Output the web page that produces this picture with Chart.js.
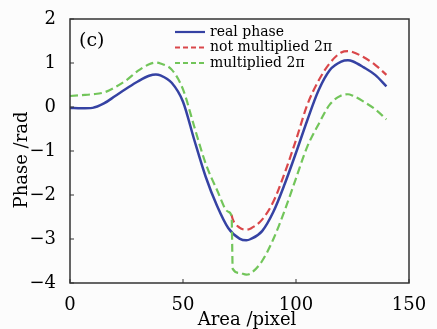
<!DOCTYPE html>
<html>
<head>
<meta charset="utf-8">
<script src="https://cdn.jsdelivr.net/npm/chart.js@4.4.0/dist/chart.umd.min.js"></script>
<style>
  html, body { margin: 0; padding: 0; background: #fcfcfc; }
  #wrap { width: 437px; height: 329px; }
</style>
</head>
<body>
<div id="wrap"><canvas id="phaseChart" width="437" height="329"></canvas></div>
<script>
// real phase (blue)
var realX = [0, 5, 10, 15, 20, 25, 30, 35, 38, 40, 45, 50, 55, 60, 65, 70, 75, 78, 80, 85, 90, 95, 100, 105, 110, 115, 120, 123, 125, 130, 135, 140];
var realY = [-0.02, -0.03, -0.02, 0.08, 0.25, 0.42, 0.58, 0.71, 0.74, 0.72, 0.55, 0.12, -0.75, -1.58, -2.24, -2.75, -2.99, -3.03, -3.0, -2.82, -2.38, -1.75, -1.04, -0.3, 0.38, 0.84, 1.03, 1.06, 1.04, 0.9, 0.73, 0.47];
// not multiplied 2pi (red), only visible after the jump
var notMultX = [71.5, 72, 75, 78, 80, 85, 90, 95, 100, 105, 110, 115, 120, 123, 125, 130, 135, 140];
var notMultY = [-2.45, -2.55, -2.74, -2.79, -2.76, -2.56, -2.15, -1.5, -0.75, 0.05, 0.6, 1.0, 1.24, 1.27, 1.25, 1.13, 0.96, 0.73];
// multiplied 2pi (green)
var multX = [0, 5, 10, 15, 20, 25, 30, 35, 38, 40, 45, 50, 55, 60, 65, 70, 71.5, 72, 75, 78, 80, 85, 90, 95, 100, 105, 110, 115, 120, 123, 125, 130, 135, 140];
var multY = [0.25, 0.27, 0.29, 0.33, 0.45, 0.61, 0.82, 0.97, 1.01, 0.99, 0.85, 0.4, -0.45, -1.28, -1.88, -2.38, -2.48, -3.68, -3.77, -3.81, -3.78, -3.5, -3.0, -2.35, -1.62, -0.9, -0.39, 0.06, 0.26, 0.29, 0.26, 0.12, -0.05, -0.28];

var xTicks = [0, 50, 100, 150];
var yTicks = [-4, -3, -2, -1, 0, 1, 2];
var seriesNames = ["real phase", "not multiplied 2\u03c0", "multiplied 2\u03c0"];

var BLUE = "#3542a3", RED = "#d9474a", GREEN = "#72c55a";
var FONT = "'DejaVu Serif', 'Liberation Serif', serif";

function pts(xs, ys) {
    return xs.map(function (x, i) { return { x: x, y: ys[i] }; });
}

// frame, inner ticks, legend, panel label and axis titles
var decor = {
    id: "decor",
    beforeDraw: function (chart) {
        var ctx = chart.ctx;
        ctx.save();
        ctx.fillStyle = "#fcfcfc";
        ctx.fillRect(0, 0, chart.width, chart.height);
        ctx.restore();
    },
    afterDatasetsDraw: function (chart) {
        var ctx = chart.ctx, a = chart.chartArea;
        var xs = chart.scales.x, ys = chart.scales.y;
        ctx.save();
        ctx.strokeStyle = "#333";
        ctx.lineWidth = 1.5;
        ctx.strokeRect(a.left, a.top, a.right - a.left, a.bottom - a.top);
        ctx.lineWidth = 1;
        xTicks.forEach(function (t) {
            var px = xs.getPixelForValue(t);
            ctx.beginPath(); ctx.moveTo(px, a.bottom); ctx.lineTo(px, a.bottom - 4); ctx.stroke();
        });
        yTicks.forEach(function (t) {
            var py = ys.getPixelForValue(t);
            ctx.beginPath(); ctx.moveTo(a.left, py); ctx.lineTo(a.left + 4, py); ctx.stroke();
        });

        // legend
        var colors = [BLUE, RED, GREEN];
        ctx.font = "14px " + FONT;
        ctx.textBaseline = "middle";
        ctx.fillStyle = "#000";
        for (var i = 0; i < 3; i++) {
            var yy = 32 + i * 15.5;
            ctx.strokeStyle = colors[i];
            ctx.lineWidth = 2.2;
            ctx.setLineDash(i === 0 ? [] : [5, 3]);
            ctx.beginPath(); ctx.moveTo(175, yy); ctx.lineTo(205, yy); ctx.stroke();
            ctx.setLineDash([]);
            ctx.fillText(seriesNames[i], 210, yy);
        }

        // panel label
        ctx.font = "19px " + FONT;
        ctx.fillText("(c)", 79, 41);

        // axis titles
        ctx.font = "18px " + FONT;
        ctx.textAlign = "center";
        ctx.fillText("Area /pixel", 247, 320);
        ctx.translate(22, 160);
        ctx.rotate(-Math.PI / 2);
        ctx.fillText("Phase /rad", 0, 0);
        ctx.restore();
    }
};

var ctx = document.getElementById("phaseChart").getContext("2d");
var chart = new Chart(ctx, {
    type: "line",
    data: {
        datasets: [
            { label: seriesNames[0], data: pts(realX, realY), borderColor: BLUE, borderWidth: 2.5, order: 3 },
            { label: seriesNames[1], data: pts(notMultX, notMultY), borderColor: RED, borderWidth: 2.2, borderDash: [8, 4], order: 2 },
            { label: seriesNames[2], data: pts(multX, multY), borderColor: GREEN, borderWidth: 2.2, borderDash: [8, 4], order: 1 }
        ]
    },
    options: {
        responsive: false,
        animation: false,
        events: [],
        layout: { padding: { top: 19, right: 28, left: 0, bottom: 0 } },
        elements: {
            point: { radius: 0 },
            line: { cubicInterpolationMode: "monotone", fill: false }
        },
        plugins: { legend: { display: false }, tooltip: { enabled: false } },
        scales: {
            x: {
                type: "linear", min: 0, max: 150,
                afterFit: function (s) { s.height = 46; },
                afterBuildTicks: function (s) { s.ticks = xTicks.map(function (v) { return { value: v }; }); },
                grid: { display: false },
                border: { display: false },
                ticks: { color: "#000", font: { family: FONT, size: 18 }, padding: 4, maxRotation: 0 }
            },
            y: {
                type: "linear", min: -4, max: 2,
                afterFit: function (s) { s.width = 70; },
                afterBuildTicks: function (s) { s.ticks = yTicks.map(function (v) { return { value: v }; }); },
                grid: { display: false },
                border: { display: false },
                ticks: {
                    color: "#000", font: { family: FONT, size: 18 }, padding: 6,
                    callback: function (v) { return String(v).replace("-", "\u2212"); }
                }
            }
        }
    },
    plugins: [decor]
});
</script>
</body>
</html>
